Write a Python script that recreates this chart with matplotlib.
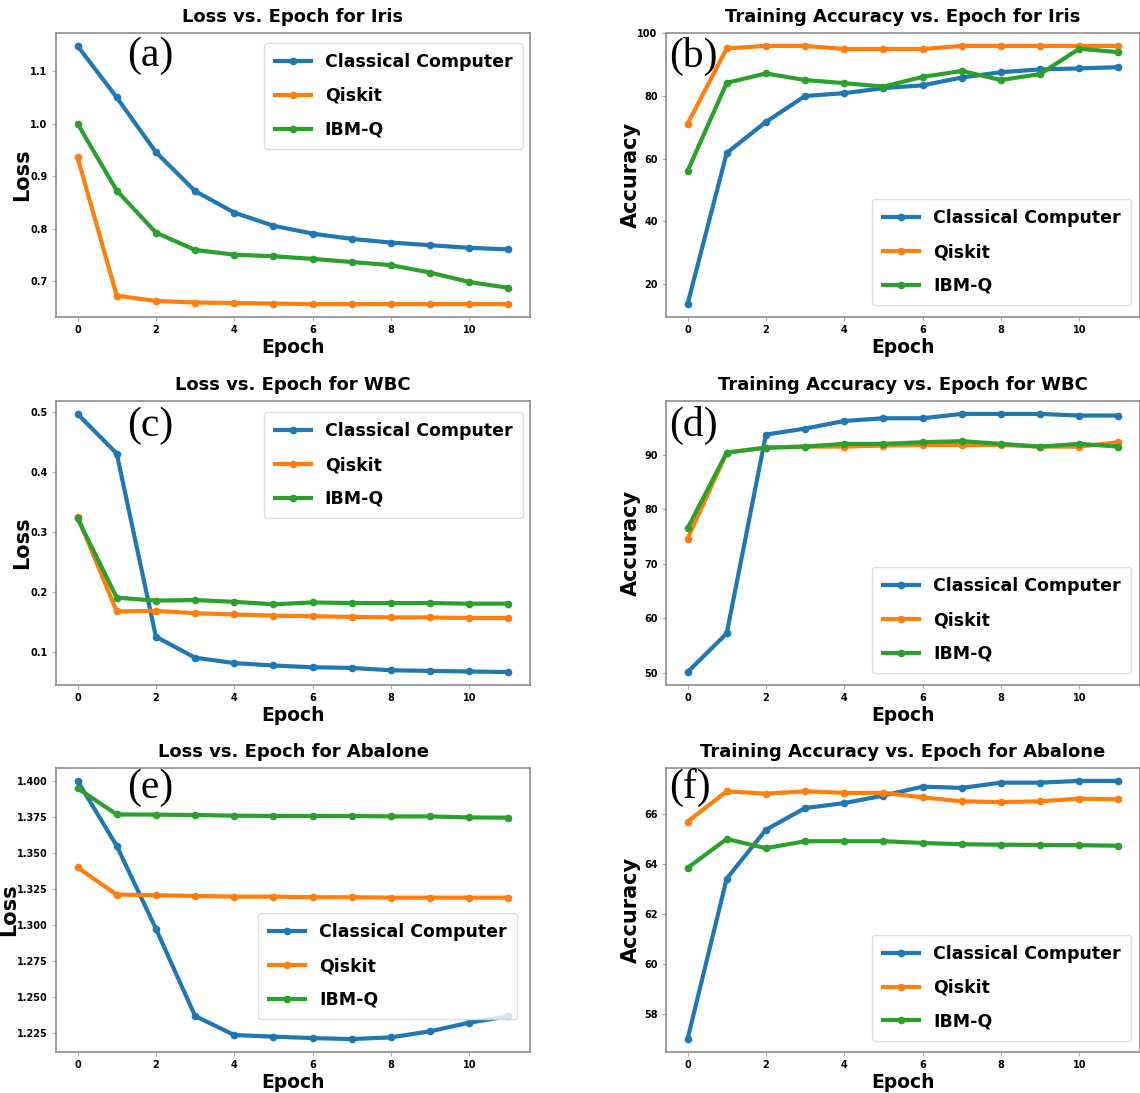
import numpy as np
import matplotlib
matplotlib.use('Agg')
import matplotlib.pyplot as plt

epochs = list(range(12))
names = ['Classical Computer', 'Qiskit', 'IBM-Q']

# (a) loss, Iris
iris_loss_cc = [1.148, 1.050, 0.946, 0.872, 0.831, 0.806, 0.791, 0.781, 0.774, 0.769, 0.764, 0.761]
iris_loss_qk = [0.936, 0.673, 0.663, 0.660, 0.659, 0.658, 0.657, 0.657, 0.657, 0.657, 0.657, 0.657]
iris_loss_ibm = [1.000, 0.873, 0.793, 0.760, 0.751, 0.748, 0.743, 0.737, 0.731, 0.717, 0.699, 0.688]

# (b) accuracy, Iris
iris_acc_cc = [13.5, 61.8, 71.7, 80.0, 80.9, 82.5, 83.4, 85.9, 87.6, 88.5, 88.8, 89.2]
iris_acc_qk = [71.1, 95.2, 96.0, 96.0, 95.0, 95.0, 95.0, 96.0, 96.0, 96.0, 96.0, 96.0]
iris_acc_ibm = [56.0, 84.2, 87.2, 85.1, 84.1, 83.0, 86.1, 88.0, 85.1, 87.0, 95.1, 94.0]

# (c) loss, WBC
wbc_loss_cc = [0.497, 0.431, 0.126, 0.091, 0.082, 0.078, 0.075, 0.074, 0.070, 0.069, 0.068, 0.067]
wbc_loss_qk = [0.326, 0.168, 0.169, 0.165, 0.163, 0.161, 0.160, 0.159, 0.158, 0.158, 0.157, 0.157]
wbc_loss_ibm = [0.323, 0.191, 0.186, 0.187, 0.184, 0.180, 0.183, 0.182, 0.182, 0.182, 0.181, 0.181]

# (d) accuracy, WBC
wbc_acc_cc = [50.1, 57.2, 93.7, 94.8, 96.2, 96.7, 96.7, 97.5, 97.5, 97.5, 97.2, 97.2]
wbc_acc_qk = [74.6, 90.4, 91.3, 91.5, 91.5, 91.7, 91.8, 91.8, 91.8, 91.5, 91.5, 92.3]
wbc_acc_ibm = [76.5, 90.4, 91.3, 91.5, 92.0, 92.0, 92.3, 92.5, 92.0, 91.5, 92.0, 91.5]

# (e) loss, Abalone
ab_loss_cc = [1.4000, 1.3550, 1.2976, 1.2371, 1.2239, 1.2228, 1.2218, 1.2211, 1.2223, 1.2265, 1.2325, 1.2369]
ab_loss_qk = [1.3400, 1.3212, 1.3208, 1.3203, 1.3198, 1.3198, 1.3194, 1.3194, 1.3191, 1.3191, 1.3191, 1.3191]
ab_loss_ibm = [1.3949, 1.3768, 1.3766, 1.3764, 1.3759, 1.3757, 1.3757, 1.3757, 1.3754, 1.3754, 1.3747, 1.3745]

# (f) accuracy, Abalone
ab_acc_cc = [56.98, 63.42, 65.38, 66.25, 66.45, 66.75, 67.11, 67.06, 67.27, 67.27, 67.34, 67.34]
ab_acc_qk = [65.71, 66.92, 66.83, 66.92, 66.86, 66.86, 66.68, 66.52, 66.49, 66.52, 66.63, 66.60]
ab_acc_ibm = [63.85, 65.01, 64.64, 64.92, 64.92, 64.92, 64.85, 64.80, 64.78, 64.77, 64.76, 64.74]

panels = [
    ('Loss vs. Epoch for Iris', 'Loss', '(a)', [iris_loss_cc, iris_loss_qk, iris_loss_ibm]),
    ('Training Accuracy vs. Epoch for Iris', 'Accuracy', '(b)', [iris_acc_cc, iris_acc_qk, iris_acc_ibm]),
    ('Loss vs. Epoch for WBC', 'Loss', '(c)', [wbc_loss_cc, wbc_loss_qk, wbc_loss_ibm]),
    ('Training Accuracy vs. Epoch for WBC', 'Accuracy', '(d)', [wbc_acc_cc, wbc_acc_qk, wbc_acc_ibm]),
    ('Loss vs. Epoch for Abalone', 'Loss', '(e)', [ab_loss_cc, ab_loss_qk, ab_loss_ibm]),
    ('Training Accuracy vs. Epoch for Abalone', 'Accuracy', '(f)', [ab_acc_cc, ab_acc_qk, ab_acc_ibm]),
]

# legend anchor (loc, x, y) and panel letter position, in axes fractions
legend_pos = [('upper right', 0.985, 0.965), ('lower right', 0.981, 0.042),
              ('upper right', 0.985, 0.961), ('lower right', 0.981, 0.042),
              ('lower right', 0.973, 0.116), ('lower right', 0.981, 0.039)]
letter_pos = [(0.15, 0.919), (0.006, 0.919), (0.15, 0.912),
              (0.006, 0.915), (0.15, 0.93), (0.006, 0.93)]
ylab_x = [-0.05, -0.054, -0.05, -0.054, -0.077, -0.054]

colors = ['#1f77b4', '#ff7f0e', '#2ca02c']

fig = plt.figure(figsize=(11.4, 10.93), dpi=100)
W, H = 1140, 1093
lefts = [56, 666]
tops = [33, 401, 768]
aw, ah = 474, 284

for k, (title, ylab, letter, series) in enumerate(panels):
    r, c = divmod(k, 2)
    ax = fig.add_axes([lefts[c] / W, 1 - (tops[r] + ah) / H, aw / W, ah / H])
    for name, vals, col in zip(names, series, colors):
        ax.plot(epochs, vals, '-o', color=col, lw=3, ms=4.5, label=name)
    ax.set_title(title, fontsize=13, pad=8, fontweight='bold')
    ax.set_xlabel('Epoch', fontsize=13.5, labelpad=2, fontweight='bold')
    ax.set_ylabel(ylab, fontsize=15, fontweight='bold')
    ax.yaxis.set_label_coords(ylab_x[k], 0.5)
    for s in ax.spines.values():
        s.set_color('#8c8c8c')
        s.set_linewidth(1.2)
    ax.tick_params(length=3, color='#b0b0b0', labelsize=7, pad=3)
    for t in ax.get_xticklabels() + ax.get_yticklabels():
        t.set_fontweight('bold')
    loc, lx, ly = legend_pos[k]
    ax.legend(loc=loc, bbox_to_anchor=(lx, ly), borderaxespad=0,
              prop=dict(weight='bold', size=12.5),
              handlelength=2.1, labelspacing=0.9, borderpad=0.6,
              edgecolor='#d8d8d8', fancybox=True)
    px, py = letter_pos[k]
    ax.text(px, py, letter, transform=ax.transAxes, ha='left', va='center',
            fontsize=30, family='Liberation Serif')

fig.savefig('out.png', dpi=100)
